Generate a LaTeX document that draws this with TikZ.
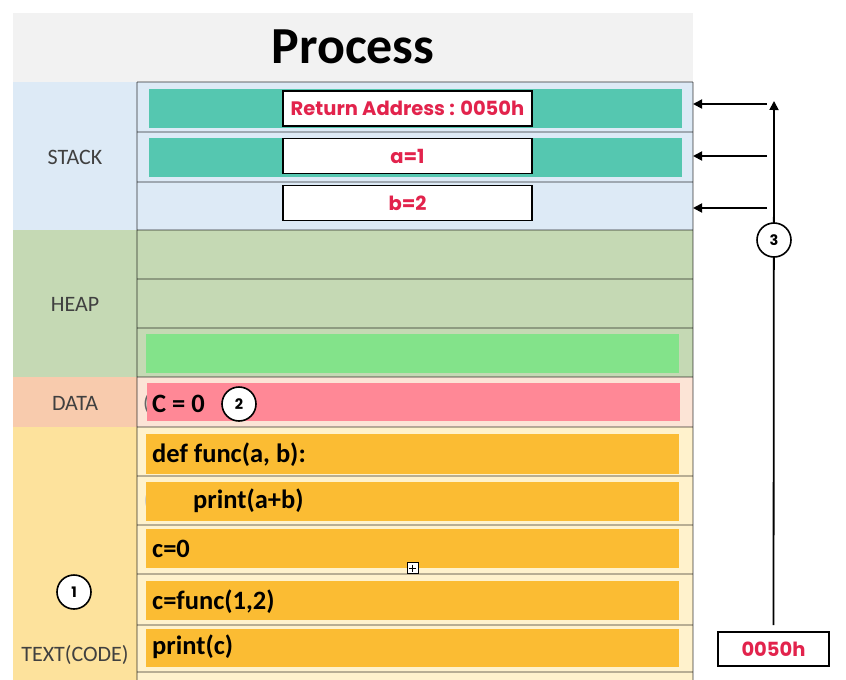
\documentclass[tikz,border=0pt]{standalone}
\usepackage{fontspec}
\setmainfont{Carlito}
\newfontfamily\pop{Poppins}
\usetikzlibrary{arrows.meta,calc}
\definecolor{titlebg}{HTML}{F2F2F2}
\definecolor{stackbg}{HTML}{DDEAF6}
\definecolor{heapbg}{HTML}{C5D9B4}
\definecolor{dataL}{HTML}{F8CBAD}
\definecolor{dataR}{HTML}{FCE4D6}
\definecolor{textL}{HTML}{FDE29C}
\definecolor{textR}{HTML}{FFF2CC}
\definecolor{tealbar}{HTML}{55C7B0}
\definecolor{greenbar}{HTML}{83E38A}
\definecolor{pinkbar}{HTML}{FF8896}
\definecolor{orangebar}{HTML}{FBBC33}
\definecolor{crim}{HTML}{E2234C}
\definecolor{lbl}{HTML}{404040}
\tikzset{
  sep/.style={draw=black, draw opacity=0.28, line width=1.6pt},
  seglabel/.style={font=\fontsize{22}{24}\selectfont, text=lbl, inner sep=0pt},
  valbox/.style={draw=black, line width=1.8pt, fill=white, minimum width=249pt, minimum height=35pt, inner sep=0pt,
     font=\pop\bfseries\fontsize{19.5}{22}\selectfont, text=crim},
  code/.style={font=\bfseries\fontsize{26.5}{28}\selectfont, text=black, inner sep=0pt, anchor=west},
  numcirc/.style={circle, draw=black, line width=1.6pt, fill=white, minimum size=34pt, inner sep=0pt,
     font=\pop\bfseries\fontsize{14.5}{16}\selectfont},
  ptr/.style={line width=1.8pt, -{Triangle[length=9pt,width=9pt]}},
  ghost/.style={font=\fontsize{22}{24}\selectfont, inner sep=0pt, anchor=west}
}
\begin{document}
\begin{tikzpicture}[x=1pt,y=-1pt]
\useasboundingbox (0,0) rectangle (846,680);
\fill[white] (0,0) rectangle (846,680);
% backgrounds
\fill[titlebg] (13,13) rectangle (693,82);
\fill[stackbg] (13,82) rectangle (693,230);
\fill[heapbg] (13,230) rectangle (693,377);
\fill[dataL] (13,377) rectangle (137,427);
\fill[dataR] (137,377) rectangle (693,427);
\fill[textL] (13,427) rectangle (137,680);
\fill[textR] (137,427) rectangle (693,680);
% ghost characters (partly hidden by the bars)
\node[ghost, text=lbl!80] (g1) at (143,404) {(};
\node[ghost, text=lbl!30] (g2) at (143.5,501) {(};
% bars
\fill[tealbar] (149,89) rectangle (682,128);
\fill[tealbar] (149,138) rectangle (682,177);
\fill[greenbar] (146,334) rectangle (679,373);
\fill[pinkbar] (147,383) rectangle (680,421);
\foreach \a/\b in {434/474,482/521,529/568,581/620,629/667}
  \fill[orangebar] (146,\a) rectangle (679,\b);
% separators
\foreach \yy in {82,132,182,230,279,328,377,427,476,525,574,625,672}
  \draw[sep] (137,\yy) -- (693,\yy);
\draw[sep] (137,82) -- (137,680);
\draw[sep] (693,82) -- (693,680);
% title
\node[font=\bfseries\fontsize{52}{56}\selectfont, inner sep=0pt] (title) at (353,47) {Process};
% segment labels
\node[seglabel] (lstack) at (75,157) {STACK};
\node[seglabel] (lheap) at (75,304) {HEAP};
\node[seglabel] (ldata) at (75,403) {DATA};
\node[seglabel] (ltext) at (75,655) {TEXT(CODE)};
% stack values
\node[valbox] (ret) at (407.5,108.5) {Return Address : 0050h};
\node[valbox] (va) at (407.5,156) {a=1};
\node[valbox] (vb) at (407.5,203) {b=2};
% code
\node[code] (cdata) at (152,404) {C = 0};
\node[code] (c1) at (152,455) {def func(a, b):};
\node[code] (c2) at (193,501) {print(a+b)};
\node[code] (c3) at (152,549) {c=0};
\node[code] (c4) at (152,602) {c=func(1,2)};
\node[code] (c5) at (152,647) {print(c)};
% table handle
\node[draw=black, line width=0.8pt, fill=white, minimum width=11pt, minimum height=11pt, inner sep=0pt] (handle) at (412.5,568) {};
\draw[line width=0.8pt] ($(handle.center)+(-3.5,0)$) -- ($(handle.center)+(3.5,0)$);
\draw[line width=0.8pt] ($(handle.center)+(0,-3.5)$) -- ($(handle.center)+(0,3.5)$);
% numbered circles
\node[numcirc] (n1) at (74,592) {1};
\node[numcirc] (n2) at (239,404) {2};
% address box and pointers
\node[draw=black, line width=1.8pt, fill=white, minimum width=111pt, minimum height=34pt, inner sep=0pt,
  font=\pop\bfseries\fontsize{19.5}{22}\selectfont, text=crim] (addr) at (773.5,649) {0050h};
\coordinate (top) at (774,101);
\draw[line width=1.8pt, -{Triangle[length=9pt,width=9pt]}, shorten <=6pt] (addr.north) -- (top);
\coordinate (s1) at (767,104);
\coordinate (s2) at (767,156);
\coordinate (s3) at (767,208);
\coordinate (e1) at (693,104);
\coordinate (e2) at (693,156);
\coordinate (e3) at (693,208);
\draw[ptr] (s1) -- (e1);
\draw[ptr] (s2) -- (e2);
\draw[ptr] (s3) -- (e3);
\node[numcirc] (n3) at (774,240) {3};
\end{tikzpicture}
\end{document}
